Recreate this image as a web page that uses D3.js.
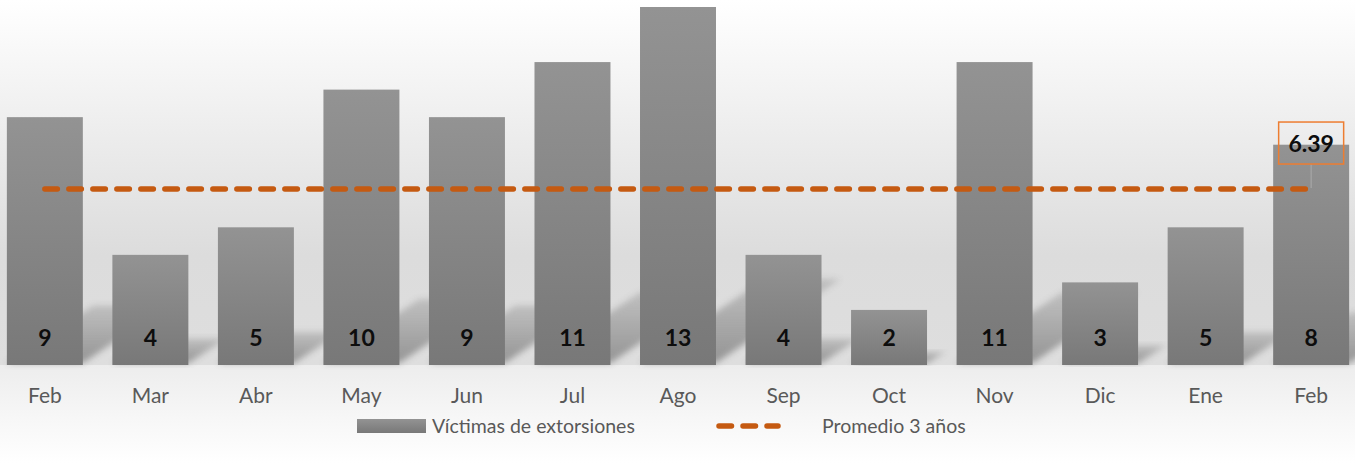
<!DOCTYPE html>
<html>
<head>
<meta charset="utf-8">
<script src="https://cdn.jsdelivr.net/npm/d3@7"></script>
<style>
  html, body { margin: 0; padding: 0; background: #fff; }
  svg { display: block; font-family: Lato, "Noto Sans", sans-serif; }
</style>
</head>
<body>
<svg id="chart" width="1355" height="463"></svg>
<script>
// chart data
const months = ["Feb", "Mar", "Abr", "May", "Jun", "Jul", "Ago", "Sep", "Oct", "Nov", "Dic", "Ene", "Feb"];
const victims = [9, 4, 5, 10, 9, 11, 13, 4, 2, 11, 3, 5, 8];
const average = 6.39;
const legendLabels = ["Víctimas de extorsiones", "Promedio 3 años"];

const W = 1355, H = 463;
const base = 365;
const svg = d3.select("#chart");
const defs = svg.append("defs");

// background gradients
const bgTop = defs.append("linearGradient").attr("id", "bgTop")
  .attr("x1", 0).attr("y1", 0).attr("x2", 0).attr("y2", 1);
bgTop.append("stop").attr("offset", "0%").attr("stop-color", "#ffffff");
bgTop.append("stop").attr("offset", "70%").attr("stop-color", "#dcdcdc");
bgTop.append("stop").attr("offset", "100%").attr("stop-color", "#dedede");

const bgBot = defs.append("linearGradient").attr("id", "bgBot")
  .attr("x1", 0).attr("y1", 0).attr("x2", 0).attr("y2", 1);
bgBot.append("stop").attr("offset", "0%").attr("stop-color", "#ededed");
bgBot.append("stop").attr("offset", "100%").attr("stop-color", "#ffffff");

const barGrad = defs.append("linearGradient").attr("id", "barGrad")
  .attr("x1", 0).attr("y1", 0).attr("x2", 0).attr("y2", 1);
barGrad.append("stop").attr("offset", "0%").attr("stop-color", "#939393");
barGrad.append("stop").attr("offset", "100%").attr("stop-color", "#787878");

// shadow fades away from the bar base
const shadowGrad = defs.append("linearGradient").attr("id", "shadowGrad")
  .attr("x1", 0).attr("y1", 1).attr("x2", 0).attr("y2", 0);
shadowGrad.append("stop").attr("offset", "0%").attr("stop-color", "#7c7c7c").attr("stop-opacity", 1);
shadowGrad.append("stop").attr("offset", "100%").attr("stop-color", "#7c7c7c").attr("stop-opacity", 0.4);

defs.append("filter").attr("id", "blur")
  .attr("x", "-20%").attr("y", "-20%").attr("width", "140%").attr("height", "140%")
  .append("feGaussianBlur").attr("stdDeviation", 3);

svg.append("rect").attr("width", W).attr("height", base).attr("fill", "url(#bgTop)");
svg.append("rect").attr("y", base).attr("width", W).attr("height", H - base).attr("fill", "url(#bgBot)");

// scales
const x = d3.scaleBand()
  .domain(d3.range(months.length))
  .range([0, 1356])
  .paddingInner(0.28)
  .paddingOuter(0.065);

const y = d3.scaleLinear().domain([0, 13]).range([base, 7]);
const bw = x.bandwidth();

// perspective shadows
svg.append("g")
  .selectAll("polygon")
  .data(victims)
  .join("polygon")
  .attr("points", (d, i) => {
    const h = base - y(d);
    const t = h * 0.24, s = t * 1.45;
    const x0 = x(i), x1 = x(i) + bw;
    return [[x0, base - 2], [x1, base - 2], [x1 + s, base - t], [x0 + s, base - t]].join(" ");
  })
  .attr("fill", "url(#shadowGrad)")
  .attr("opacity", 0.75)
  .attr("filter", "url(#blur)");

// bars
svg.append("g")
  .selectAll("rect")
  .data(victims)
  .join("rect")
  .attr("x", (d, i) => x(i))
  .attr("y", (d) => y(d))
  .attr("width", bw)
  .attr("height", (d) => base - y(d))
  .attr("fill", "url(#barGrad)");

// bar value labels
svg.append("g")
  .selectAll("text")
  .data(victims)
  .join("text")
  .attr("x", (d, i) => x(i) + bw / 2)
  .attr("y", base - 19)
  .attr("text-anchor", "middle")
  .attr("font-size", 23)
  .attr("font-weight", 700)
  .attr("fill", "#0d0d0d")
  .text((d) => d);

// category labels
svg.append("g")
  .selectAll("text")
  .data(months)
  .join("text")
  .attr("x", (d, i) => x(i) + bw / 2)
  .attr("y", 403)
  .attr("text-anchor", "middle")
  .attr("font-size", 21)
  .attr("fill", "#595959")
  .text((d) => d);

// average line
const last = months.length - 1;
const xa0 = x(0) + bw / 2, xa1 = x(last) + bw / 2;
svg.append("line")
  .attr("x1", xa0).attr("x2", xa1 - 3)
  .attr("y1", y(average)).attr("y2", y(average))
  .attr("stroke", "#C55A11")
  .attr("stroke-width", 5.5)
  .attr("stroke-linecap", "round")
  .attr("stroke-dasharray", "12.5 11.5");

// average data label with leader line
const boxW = 65, boxH = 42;
const boxCx = x(last) + bw / 2;
const boxTop = y(average) - 67;
svg.append("line")
  .attr("x1", boxCx).attr("x2", boxCx)
  .attr("y1", boxTop + boxH).attr("y2", y(average) - 1)
  .attr("stroke", "#a6a6a6").attr("stroke-width", 1.2);
svg.append("rect")
  .attr("x", boxCx - boxW / 2).attr("y", boxTop)
  .attr("width", boxW).attr("height", boxH)
  .attr("fill", "none")
  .attr("stroke", "#ED7D31").attr("stroke-width", 1.5);
svg.append("text")
  .attr("x", boxCx).attr("y", boxTop + 30)
  .attr("text-anchor", "middle")
  .attr("font-size", 23).attr("font-weight", 700)
  .attr("fill", "#0d0d0d")
  .text(average.toFixed(2));

// legend
const lg = svg.append("g");
lg.append("rect").attr("x", 357).attr("y", 419).attr("width", 69).attr("height", 14).attr("fill", "url(#barGrad)");
lg.append("text").attr("x", 432).attr("y", 433).attr("font-size", 19.5).attr("fill", "#595959").text(legendLabels[0]);
lg.append("line")
  .attr("x1", 719).attr("x2", 778).attr("y1", 426).attr("y2", 426)
  .attr("stroke", "#C55A11").attr("stroke-width", 5.5)
  .attr("stroke-linecap", "round")
  .attr("stroke-dasharray", "12.5 11.5");
lg.append("text").attr("x", 822).attr("y", 433).attr("font-size", 19.5).attr("fill", "#595959").text(legendLabels[1]);
</script>
</body>
</html>
